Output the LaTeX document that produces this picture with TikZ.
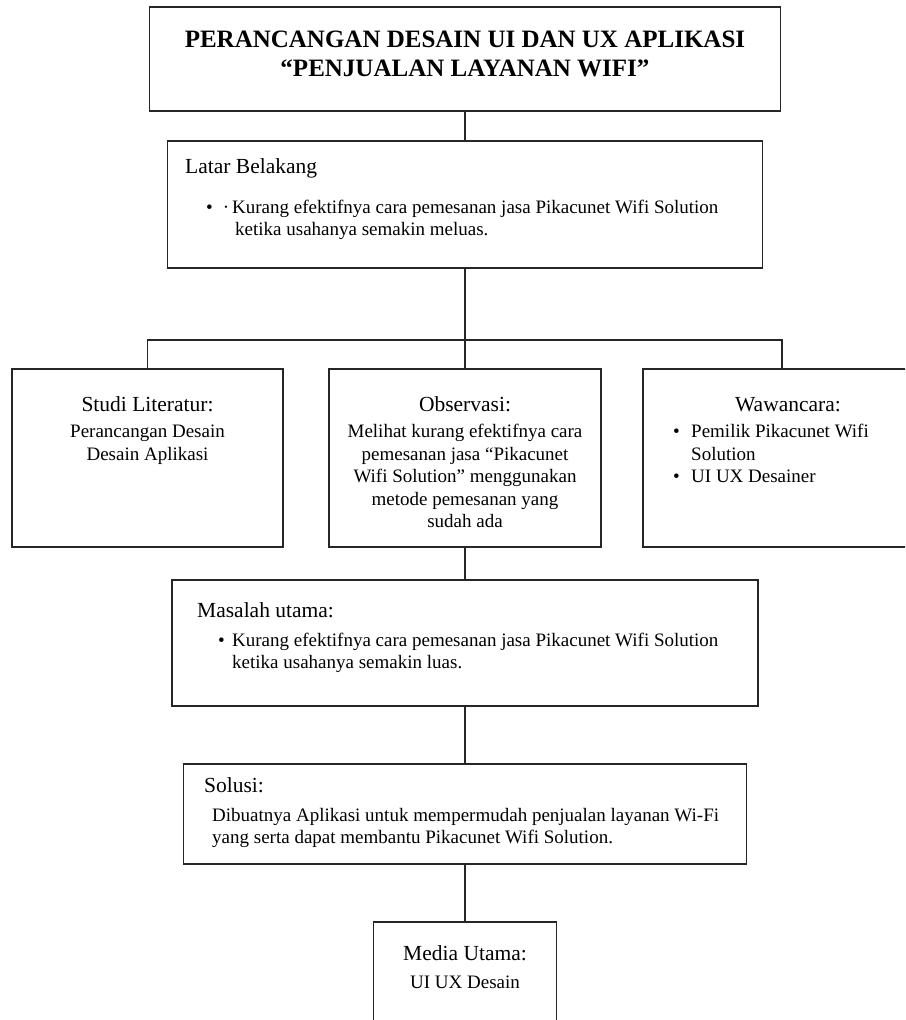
\documentclass[tikz,border=0pt]{standalone}
\usepackage{fontspec}
\setmainfont{Liberation Serif}
\usepackage{tikz}
\usetikzlibrary{calc}

\begin{document}
\begin{tikzpicture}[x=1pt, y=-1pt,
    kotak/.style={draw=black!85, line width=1.3pt, rectangle, inner sep=0pt},
    judul/.style={inner sep=0pt, font=\fontsize{25}{29}\selectfont\bfseries},
    kepala/.style={inner sep=0pt, font=\fontsize{21.5}{26}\selectfont},
    isi/.style={inner sep=0pt, font=\fontsize{19}{22}\selectfont}]
    \useasboundingbox (0,0) rectangle (905,1020);
    \clip (0,0) rectangle (905,1020);
    % kotak
    \node [kotak, minimum width=631pt, minimum height=104pt] (judulbox) at (465,59) {};
    \node [kotak, minimum width=595pt, minimum height=127pt] (latar) at (465,204.5) {};
    \node [kotak, minimum width=271pt, minimum height=178pt] (studi) at (147.5,458) {};
    \node [kotak, minimum width=272pt, minimum height=178pt] (obs) at (465,458) {};
    \node [kotak, minimum width=278pt, minimum height=178pt] (waw) at (782,458) {};
    \node [kotak, minimum width=586pt, minimum height=126pt] (masalah) at (465,643) {};
    \node [kotak, minimum width=563pt, minimum height=100pt] (solusi) at (465,814) {};
    \node [kotak, minimum width=183pt, minimum height=140pt] (media) at (465,992) {};
    % garis
    \coordinate (cabang) at (465,340);
    \draw [line width=1.3pt, black!85] (judulbox.south) -- (latar.north);
    \draw [line width=1.3pt, black!85] (latar.south) -- (cabang);
    \draw [line width=1.3pt, black!85] (studi.north) |- (cabang) -| (waw.north);
    \draw [line width=1.3pt, black!85] (cabang) -- (obs.north);
    \draw [line width=1.3pt, black!85] (obs.south) -- (masalah.north);
    \draw [line width=1.3pt, black!85] (masalah.south) -- (solusi.north);
    \draw [line width=1.3pt, black!85] (solusi.south) -- (media.north);
    % judul
    \node [judul, anchor=base] (j1) at (465,47) {PERANCANGAN DESAIN UI DAN UX APLIKASI};
    \node [judul, anchor=base] (j2) at (465,76) {“PENJUALAN LAYANAN WIFI”};
    % latar belakang
    \node [kepala, anchor=base west] (lb) at (185,173) {Latar Belakang};
    \node [isi, anchor=base west] (lb1) at (206,213) {•\hspace{10pt}·\hspace{3pt}Kurang efektifnya cara pemesanan jasa Pikacunet Wifi Solution};
    \node [isi, anchor=base west] (lb2) at (235,235) {ketika usahanya semakin meluas.};
    % studi literatur
    \node [kepala, anchor=base] (sl) at (147.5,411) {Studi Literatur:};
    \node [isi, anchor=base] (sl1) at (147.5,437) {Perancangan Desain};
    \node [isi, anchor=base] (sl2) at (147.5,460) {Desain Aplikasi};
    % observasi
    \node [kepala, anchor=base] (ob) at (465,411) {Observasi:};
    \node [isi, anchor=base] (ob1) at (465,437) {Melihat kurang efektifnya cara};
    \node [isi, anchor=base] (ob2) at (465,460) {pemesanan jasa “Pikacunet};
    \node [isi, anchor=base] (ob3) at (465,482) {Wifi Solution” menggunakan};
    \node [isi, anchor=base] (ob4) at (465,505) {metode pemesanan yang};
    \node [isi, anchor=base] (ob5) at (465,527) {sudah ada};
    % wawancara
    \node [kepala, anchor=base] (ww) at (788,411) {Wawancara:};
    \node [isi, anchor=base west] (wwb1) at (673,437) {•};
    \node [isi, anchor=base west] (ww1) at (691,437) {Pemilik Pikacunet Wifi};
    \node [isi, anchor=base west] (ww2) at (691,460) {Solution};
    \node [isi, anchor=base west] (wwb2) at (673,482) {•};
    \node [isi, anchor=base west] (ww3) at (691,482) {UI UX Desainer};
    % masalah utama
    \node [kepala, anchor=base west] (mu) at (197,617) {Masalah utama:};
    \node [isi, anchor=base west] (mub) at (218,646) {•};
    \node [isi, anchor=base west] (mu1) at (232,646) {Kurang efektifnya cara pemesanan jasa Pikacunet Wifi Solution};
    \node [isi, anchor=base west] (mu2) at (232,668) {ketika usahanya semakin luas.};
    % solusi
    \node [kepala, anchor=base west] (so) at (204,792) {Solusi:};
    \node [isi, anchor=base west] (so1) at (212,821) {Dibuatnya Aplikasi untuk mempermudah penjualan layanan Wi-Fi};
    \node [isi, anchor=base west] (so2) at (212,843) {yang serta dapat membantu Pikacunet Wifi Solution.};
    % media utama
    \node [kepala, anchor=base] (mdu) at (465,960) {Media Utama:};
    \node [isi, anchor=base] (mdu1) at (465,988) {UI UX Desain};
\end{tikzpicture}
\end{document}
